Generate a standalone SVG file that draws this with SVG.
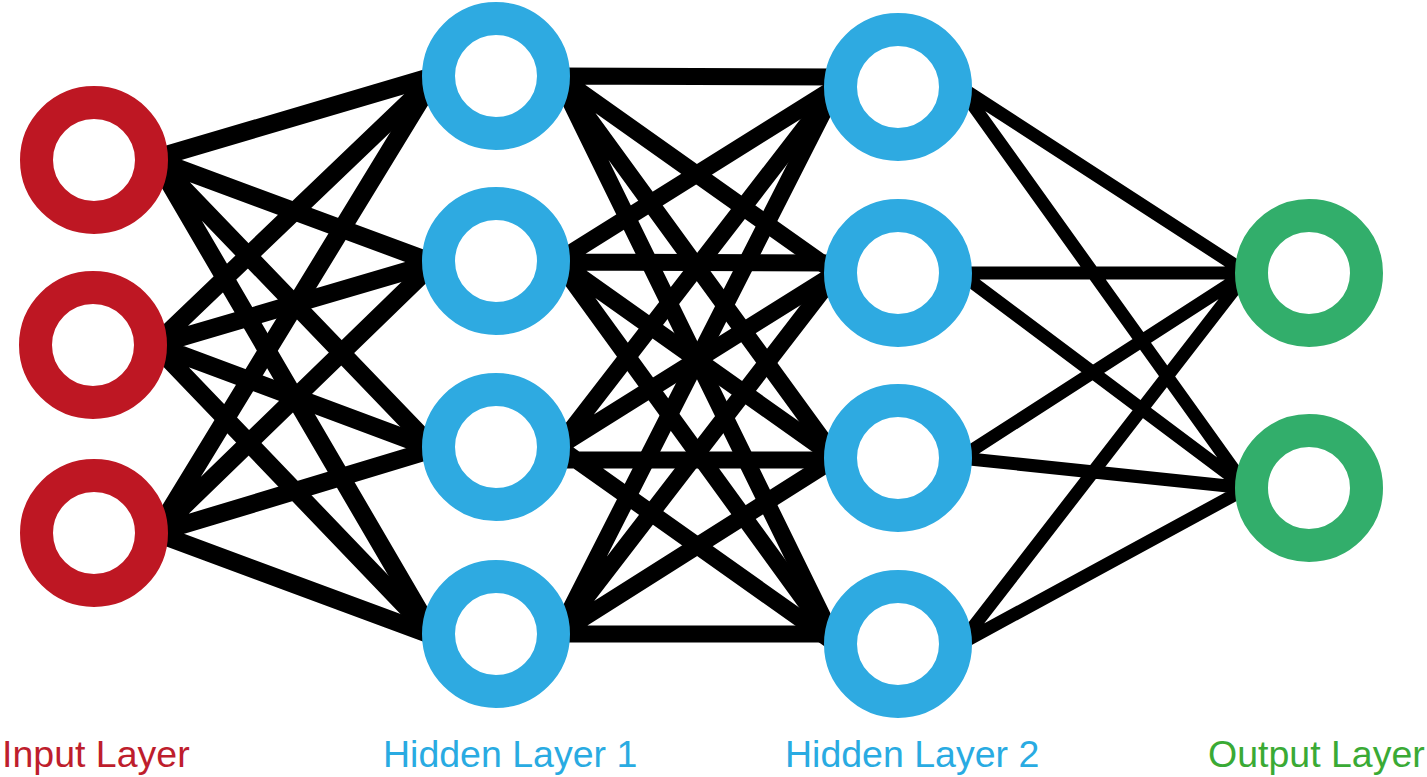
<svg xmlns="http://www.w3.org/2000/svg" width="1427" height="777" viewBox="0 0 1427 777">
<style>
.c1{stroke:#000;stroke-width:18;fill:none}
.c2{stroke:#000;stroke-width:17;fill:none}
.c3{stroke:#000;stroke-width:13;fill:none}
.ring{fill:#fff;stroke-width:33}
.in{stroke:#BE1723}
.hid{stroke:#2EAAE1}
.out{stroke:#32AE6B}
.lbl{font-family:"Liberation Sans",Arial,sans-serif;font-size:37.5px}
</style>
<rect width="1427" height="777" fill="#fff"/>
<g id="connectors">
<path class="c1" d="M156 158L434 76M156 160L434 263M156 160L434 449M156 160L434 636"/>
<path class="c1" d="M155 345L434 78M155 345L434 263M155 345L434 449M155 345L434 636"/>
<path class="c1" d="M156 533L434 78M156 533L434 263M156 533L434 449M156 533L434 636"/>
<path class="c2" d="M558 76L836 77M558 76L836 273M558 76L836 458M558 76L836 644"/>
<path class="c2" d="M558 261L836 87M558 262L836 263M558 261L836 458M558 261L836 644"/>
<path class="c2" d="M558 447L836 87M558 447L836 273M558 460L836 460M558 447L836 644"/>
<path class="c2" d="M558 634L836 87M558 634L836 273M558 634L836 458M558 634L836 634"/>
<path class="c3" d="M960 87L1247 273M960 87L1247 488M960 273L1247 273M960 273L1247 488M960 458L1247 273M960 458L1247 488M960 644L1247 273M960 644L1247 488"/>
</g>
<g id="input-1"><circle class="ring in" cx="94" cy="160" r="57.5"/></g>
<g id="input-2"><circle class="ring in" cx="93" cy="345" r="57.5"/></g>
<g id="input-3"><circle class="ring in" cx="94" cy="533" r="57.5"/></g>
<g id="hidden1-1"><circle class="ring hid" cx="496" cy="76" r="57.5"/></g>
<g id="hidden1-2"><circle class="ring hid" cx="496" cy="261" r="57.5"/></g>
<g id="hidden1-3"><circle class="ring hid" cx="496" cy="447" r="57.5"/></g>
<g id="hidden1-4"><circle class="ring hid" cx="496" cy="634" r="57.5"/></g>
<g id="hidden2-1"><circle class="ring hid" cx="898" cy="87" r="57.5"/></g>
<g id="hidden2-2"><circle class="ring hid" cx="898" cy="273" r="57.5"/></g>
<g id="hidden2-3"><circle class="ring hid" cx="898" cy="458" r="57.5"/></g>
<g id="hidden2-4"><circle class="ring hid" cx="898" cy="644" r="57.5"/></g>
<g id="output-1"><circle class="ring out" cx="1309" cy="273" r="57.5"/></g>
<g id="output-2"><circle class="ring out" cx="1309" cy="488" r="57.5"/></g>
<g id="labels">
<text class="lbl" x="2" y="767" fill="#BE1E2D">Input Layer</text>
<text class="lbl" x="383" y="767" fill="#29ABE2">Hidden Layer 1</text>
<text class="lbl" x="785" y="767" fill="#29ABE2">Hidden Layer 2</text>
<text class="lbl" x="1208" y="767" fill="#3AAA35">Output Layer</text>
</g>
</svg>
